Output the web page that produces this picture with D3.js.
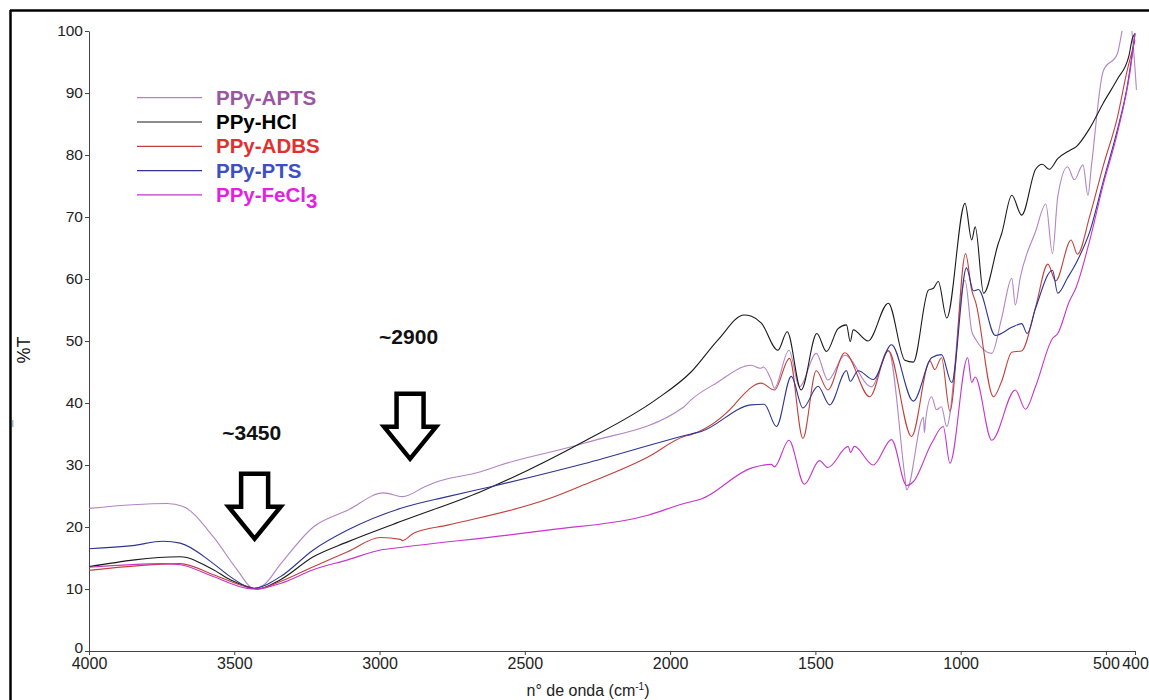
<!DOCTYPE html>
<html><head><meta charset="utf-8">
<script src="https://cdn.jsdelivr.net/npm/d3@7"></script>
<style>body{margin:0;background:#fff}svg{display:block}</style>
</head><body>
<svg id="c" width="1149" height="700"></svg>
<script>
// ---- data (wavenumber cm-1, %T) ----
const xTicks = [4000, 3500, 3000, 2500, 2000, 1500, 1000, 500, 400];
const yTicks = [0, 10, 20, 30, 40, 50, 60, 70, 80, 90, 100];
const seriesNames = ["PPy-APTS", "PPy-HCl", "PPy-ADBS", "PPy-PTS", "PPy-FeCl3"];

const apts = [[4000,23.0],[3850,23.6],[3731,23.8],[3676,23.3],[3572,18.4],[3490,13.1],[3434,10.1],[3400,10.6],[3341,14.0],[3228,20.0],[3110,22.7],[2986,25.5],[2921,24.9],[2848,26.4],[2814,27.1],[2652,28.9],[2583,30.0],[2297,33.5],[1952,39.4],[1928,40.5],[1835,43.4],[1745,45.9],[1721,46.1],[1690,45.6],[1679,45.8],[1652,43.7],[1641,42.4],[1591,48.5],[1555,42.6],[1497,48.0],[1457,43.7],[1399,47.7],[1307,42.6],[1249,48.5],[1192,28.1],[1186,26.0],[1128,37.7],[1125,35.2],[1120,37.5],[1100,41.0],[1083,38.9],[1066,39.4],[1048,36.2],[985,59.8],[962,51.6],[950,50.4],[893,48.0],[859,53.7],[824,60.1],[812,55.8],[795,60.2],[742,67.7],[707,72.1],[684,64.1],[666,73.2],[632,78.1],[609,76.0],[579,78.4],[562,73.5],[550,78.2],[509,93.6],[461,96.3],[444,100.1],[425,104],[405,97],[395,90.5]];

const hcl = [[4000,13.6],[3686,15.2],[3572,13.1],[3514,11.5],[3455,10.4],[3421,10.0],[3341,11.5],[3228,15.2],[3110,17.6],[2921,21.0],[2652,25.7],[2297,33.8],[2050,40.5],[1928,45.0],[1835,50.2],[1745,54.2],[1720,54.0],[1686,52.9],[1629,48.5],[1597,51.5],[1549,42.1],[1495,51.2],[1462,48.3],[1422,52.0],[1393,52.6],[1380,49.9],[1370,51.8],[1319,50.0],[1249,56.1],[1192,46.9],[1163,46.6],[1111,58.2],[1094,58.5],[1077,59.6],[1048,53.7],[985,72.2],[962,66.3],[950,68.4],[921,57.7],[870,65.8],[859,67.3],[824,73.5],[790,70.3],[742,77.7],[719,78.5],[695,77.7],[666,79.4],[626,80.7],[603,81.3],[556,84.3],[509,88.4],[461,92.2],[421,96.0],[409,98.8],[400,99.6]];

const adbs = [[4000,13.0],[3686,14.1],[3572,12.3],[3455,10.3],[3421,10.0],[3341,11.2],[3228,13.6],[3110,16.0],[2997,18.3],[2928,18.0],[2921,17.8],[2883,19.0],[2766,20.3],[2421,24.5],[2297,26.8],[2076,31.3],[1952,34.6],[1928,34.9],[1779,39.7],[1755,41.0],[1686,43.2],[1641,42.1],[1589,47.2],[1543,34.3],[1497,45.2],[1457,42.1],[1399,48.1],[1313,41.0],[1249,48.4],[1169,34.6],[1106,46.8],[1089,45.4],[1066,47.3],[1037,38.7],[983,64.1],[962,58.2],[948,56.2],[887,41.0],[859,43.5],[824,48.2],[790,48.4],[742,55.5],[700,62.4],[673,59.7],[620,66.3],[598,64.0],[556,70.1],[509,78.3],[461,86.0],[427,93.6],[400,98.5]];

const pts = [[4000,16.5],[3850,17.0],[3745,17.7],[3686,17.4],[3572,14.1],[3514,12.0],[3434,10.1],[3341,12.0],[3228,16.3],[3110,19.5],[2921,23.1],[2766,24.9],[2617,26.5],[2297,30.2],[1928,35.0],[1893,35.4],[1721,39.7],[1676,39.8],[1634,36.2],[1583,44.3],[1543,39.2],[1491,42.7],[1451,39.7],[1393,45.2],[1380,43.5],[1353,45.2],[1301,43.8],[1238,49.4],[1163,40.3],[1100,47.3],[1066,47.8],[1031,43.3],[980,61.8],[956,58.1],[939,58.3],[881,50.9],[824,52.2],[790,52.8],[771,51.2],[742,55.3],[684,61.4],[666,57.7],[632,60.2],[598,63.0],[556,67.6],[509,75.8],[461,84.0],[427,91.0],[400,99.6]];

const fecl3 = [[4000,13.5],[3745,14.1],[3686,13.9],[3572,12.0],[3455,10.1],[3421,10.0],[3341,10.9],[3228,13.1],[3110,14.7],[2997,16.3],[2928,16.7],[2421,19.5],[2076,21.9],[1952,23.8],[1893,24.5],[1721,29.5],[1652,30.1],[1641,29.7],[1591,34.0],[1538,26.9],[1486,30.7],[1457,29.6],[1387,33.0],[1379,32.0],[1366,33.0],[1301,30.0],[1238,34.1],[1186,26.7],[1163,27.3],[1100,33.5],[1060,36.2],[1037,30.3],[976,47.3],[962,43.3],[950,44.2],[893,34.0],[812,42.1],[777,39.0],[742,42.7],[684,50.4],[666,51.2],[626,56.4],[603,58.6],[556,66.2],[509,75.3],[461,83.5],[415,94.1],[400,99.6]];

const annotations = [
  {label: "~3450", wave: 3430, tip: 18.1, labelWave: 3440, labelT: 34.0},
  {label: "~2900", wave: 2895, tip: 31.0, labelWave: 2900, labelT: 49.5}
];

// ---- styles ----
const lineColors = ["#b384c4", "#1a1a1a", "#c2413c", "#2d358e", "#c834cc"];
const textColors = ["#9b55a3", "#000000", "#e0312f", "#3d4fc2", "#e41fe4"];

const svg = d3.select("#c");
const x = d3.scaleLinear().domain([4000, 400]).range([89, 1135]);
const y = d3.scaleLinear().domain([0, 100]).range([651, 31]);

// frame (top and left edges visible)
svg.append("line").attr("x1", 10).attr("x2", 1149).attr("y1", 10.5).attr("y2", 10.5).attr("stroke", "#000").attr("stroke-width", 2.5);
svg.append("line").attr("x1", 10.5).attr("x2", 10.5).attr("y1", 10).attr("y2", 700).attr("stroke", "#000").attr("stroke-width", 2.5);
svg.append("rect").attr("x", 12).attr("y", 420).attr("width", 1.5).attr("height", 7).attr("fill", "#9fb8d8");

// clip
svg.append("clipPath").attr("id", "clip").append("rect")
  .attr("x", 89).attr("y", y(100)).attr("width", 1060).attr("height", y(0) - y(100));

// axes
const font = "Arial, 'Liberation Sans', sans-serif";
const gx = svg.append("g").attr("transform", `translate(0,${y(0)})`)
  .call(d3.axisBottom(x).tickValues(xTicks).tickFormat(d3.format("d")).tickSize(4).tickSizeOuter(0).tickPadding(3));
const gy = svg.append("g").attr("transform", `translate(${x(4000)},0)`)
  .call(d3.axisLeft(y).tickValues(yTicks).tickSize(4).tickSizeOuter(0).tickPadding(2));
gx.selectAll("text").attr("font-family", font).attr("font-size", 16).attr("fill", "#222");
gy.selectAll("text").attr("font-family", font).attr("font-size", 15.5).attr("fill", "#222");
[gx, gy].forEach(g => g.selectAll("path,line").attr("stroke", "#444"));
// keep the y "0" label just above the x tick labels, as in the original
gy.selectAll(".tick").filter(d => d === 0).select("text").attr("dy", "0.1em");

// series
const series = [apts, hcl, adbs, pts, fecl3];
const line = d3.line().x(d => x(d[0])).y(d => y(d[1])).curve(d3.curveMonotoneX);
const plot = svg.append("g").attr("clip-path", "url(#clip)");
series.forEach((s, i) => {
  const sorted = s.slice().sort((a, b) => b[0] - a[0]);
  plot.append("path").datum(sorted).attr("d", line)
    .attr("fill", "none").attr("stroke", lineColors[i]).attr("stroke-width", 1.1);
});

// legend
const lg = svg.append("g");
seriesNames.forEach((name, i) => {
  const cy = 97.7 + i * 24.3;
  lg.append("line").attr("x1", 137).attr("x2", 202).attr("y1", cy).attr("y2", cy)
    .attr("stroke", lineColors[i]).attr("stroke-width", 1.2);
  const t = lg.append("text").attr("x", 216).attr("y", cy + 7)
    .attr("font-family", font).attr("font-weight", "bold").attr("font-size", 20.5)
    .attr("fill", textColors[i]);
  if (name === "PPy-FeCl3") {
    t.append("tspan").text("PPy-FeCl");
    t.append("tspan").attr("dy", 6).text("3");
  } else {
    t.text(name);
  }
});

// axis titles
svg.append("text").attr("transform", "translate(30,350) rotate(-90)")
  .attr("text-anchor", "middle").attr("font-family", font).attr("font-size", 18).attr("fill", "#111").text("%T");
const xt = svg.append("text").attr("x", 588).attr("y", 696).attr("text-anchor", "middle")
  .attr("font-family", font).attr("font-size", 16).attr("fill", "#222");
xt.append("tspan").text("n° de onda (cm");
xt.append("tspan").attr("dy", -6).attr("font-size", 10).text("-1");
xt.append("tspan").attr("dy", 6).text(")");

// annotations: hollow down arrows + labels
annotations.forEach(a => {
  const cx = x(a.wave), tipY = y(a.tip);
  const p = d3.path();
  const hw = 13.5, headW = 26, headH = 32, shaftH = 33;
  p.moveTo(cx - hw, tipY - headH - shaftH);
  p.lineTo(cx + hw, tipY - headH - shaftH);
  p.lineTo(cx + hw, tipY - headH);
  p.lineTo(cx + headW, tipY - headH);
  p.lineTo(cx, tipY);
  p.lineTo(cx - headW, tipY - headH);
  p.lineTo(cx - hw, tipY - headH);
  p.closePath();
  svg.append("path").attr("d", p.toString()).attr("fill", "#fff")
    .attr("stroke", "#000").attr("stroke-width", 4.5).attr("stroke-linejoin", "miter");
  svg.append("text").attr("x", x(a.labelWave)).attr("y", y(a.labelT))
    .attr("text-anchor", "middle").attr("font-family", font).attr("font-weight", "bold")
    .attr("font-size", 21).attr("fill", "#111").text(a.label);
});
</script>
</body></html>
